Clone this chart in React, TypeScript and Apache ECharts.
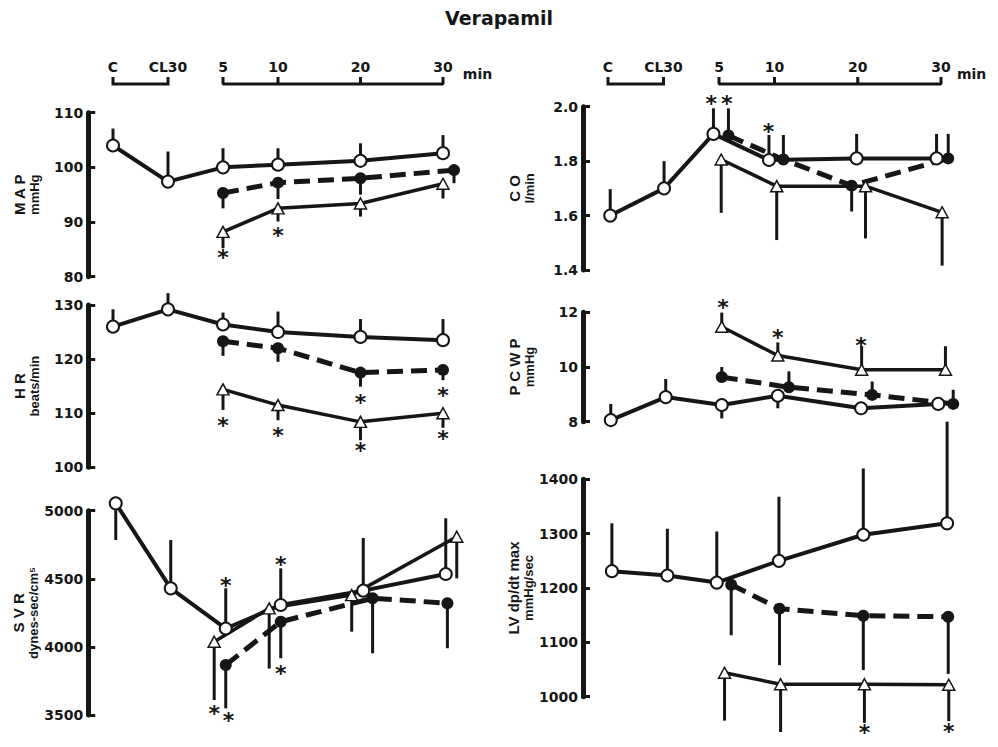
import React, { useEffect, useRef } from 'react';
import * as echarts from 'echarts';

// ---------- shared time axis ----------
const TIME_POS = [0, 1, 2, 3, 4.5, 6];
const TIME_LABELS = ['C', 'CL30', '5', '10', '20', '30'];

// ---------- MAP (mmHg) ----------
const MAP_OPEN_X = [0, 1, 2, 3, 4.5, 6];
const MAP_OPEN_Y = [104, 97.4, 100, 100.5, 101.2, 102.6];
const MAP_OPEN_ERR = [107.1, 102.9, 103.5, 103.5, 104.4, 105.9];
const MAP_FILL_X = [2, 3, 4.5, 6.2];
const MAP_FILL_Y = [95.3, 97.2, 98.0, 99.5];
const MAP_FILL_ERR = [92.5, 94.2, 95.0, 97.1];
const MAP_TRI_X = [2, 3, 4.5, 6];
const MAP_TRI_Y = [88.2, 92.5, 93.4, 97.0];
const MAP_TRI_ERR = [85.2, 90.1, 91.0, 94.3];
const MAP_STARS = [[2, 84.3], [3, 88.2]];

// ---------- HR (beats/min) ----------
const HR_OPEN_X = [0, 1, 2, 3, 4.5, 6];
const HR_OPEN_Y = [126.0, 129.2, 126.4, 125.0, 124.1, 123.5];
const HR_OPEN_ERR = [129.2, 132.2, 128.6, 128.8, 127.4, 127.4];
const HR_FILL_X = [2, 3, 4.5, 6];
const HR_FILL_Y = [123.3, 122.0, 117.5, 118.0];
const HR_FILL_ERR = [120.6, 119.5, 114.9, 116.1];
const HR_TRI_X = [2, 3, 4.5, 6];
const HR_TRI_Y = [114.4, 111.5, 108.4, 110.0];
const HR_TRI_ERR = [110.6, 108.7, 105.0, 107.3];
const HR_STARS = [[4.5, 112.8], [6, 114.0], [2, 108.4], [3, 106.6], [4.5, 103.9], [6, 106.0]];

// ---------- SVR (dynes-sec/cm5) ----------
const SVR_OPEN_X = [0.05, 1.05, 2.05, 3.05, 4.55, 6.05];
const SVR_OPEN_Y = [5054, 4430, 4135, 4308, 4413, 4535];
const SVR_OPEN_ERR = [4785, 4785, 4430, 4577, 4800, 4944];
const SVR_FILL_X = [2.05, 3.05, 4.72, 6.08];
const SVR_FILL_Y = [3867, 4185, 4357, 4321];
const SVR_FILL_ERR = [3549, 3917, 3953, 3990];
const SVR_TRI_X = [1.84, 2.84, 4.34, 6.25];
const SVR_TRI_Y = [4038, 4283, 4380, 4809];
const SVR_TRI_ERR = [3610, 3841, 4112, 4503];
const SVR_STARS = [[2.05, 4479], [3.05, 4638], [2.1, 3488], [1.84, 3537], [3.05, 3836]];

// ---------- CO (l/min) ----------
const CO_OPEN_X = [0.04, 1.01, 1.9, 2.9, 4.48, 5.92];
const CO_OPEN_Y = [1.6, 1.7, 1.9, 1.804, 1.81, 1.81];
const CO_OPEN_ERR = [1.697, 1.8, 1.994, 1.896, 1.9, 1.9];
const CO_FILL_X = [2.17, 3.16, 4.39, 6.13];
const CO_FILL_Y = [1.894, 1.806, 1.71, 1.81];
const CO_FILL_ERR = [1.994, 1.896, 1.615, 1.9];
const CO_TRI_X = [2.04, 3.04, 4.64, 6.02];
const CO_TRI_Y = [1.806, 1.708, 1.708, 1.612];
const CO_TRI_ERR = [1.61, 1.51, 1.516, 1.416];
const CO_STARS = [[1.86, 2.025], [2.14, 2.025], [2.89, 1.924]];

// ---------- PCWP (mmHg) ----------
const PCWP_OPEN_X = [0.05, 1.04, 2.05, 3.06, 4.56, 5.95];
const PCWP_OPEN_Y = [8.06, 8.9, 8.61, 8.95, 8.49, 8.65];
const PCWP_OPEN_ERR = [8.65, 9.56, 8.12, 8.49, null, null];
const PCWP_FILL_X = [2.05, 3.26, 4.76, 6.22];
const PCWP_FILL_Y = [9.63, 9.26, 8.98, 8.65];
const PCWP_FILL_ERR = [10.0, 9.84, 9.47, 9.17];
const PCWP_TRI_X = [2.05, 3.06, 4.57, 6.08];
const PCWP_TRI_Y = [11.47, 10.42, 9.9, 9.9];
const PCWP_TRI_ERR = [11.99, 10.9, 10.76, 10.76];
const PCWP_STARS = [[2.07, 12.33], [3.06, 11.23], [4.56, 10.92]];

// ---------- LV dp/dt max (mmHg/sec) ----------
const LV_OPEN_X = [0.07, 1.07, 1.96, 3.08, 4.6, 6.11];
const LV_OPEN_Y = [1231, 1223, 1210, 1250, 1298, 1319];
const LV_OPEN_ERR = [1319, 1309, 1304, 1368, 1420, 1506];
const LV_FILL_X = [2.22, 3.09, 4.6, 6.13];
const LV_FILL_Y = [1206, 1162, 1149, 1147];
const LV_FILL_ERR = [1113, 1058, 1049, 1042];
const LV_TRI_X = [2.1, 3.11, 4.62, 6.14];
const LV_TRI_Y = [1044, 1023, 1023, 1022];
const LV_TRI_ERR = [956, 935, 952, 955];
const LV_STARS = [[4.62, 941], [6.14, 943]];

const INK = '#161616';
const X_MIN = -0.45;
const X_MAX = 6.36;
const SIDES = [
  { left: 113 + X_MIN * 55, width: (X_MAX - X_MIN) * 55 },
  { left: 608 + X_MIN * 55.5, width: (X_MAX - X_MIN) * 55.5 },
];

type Panel = {
  side: number; top: number; height: number; min: number; max: number; interval: number;
  name: string; fmt?: (v: number) => string;
  open: [number[], number[], (number | null)[]];
  fill: [number[], number[], (number | null)[]];
  tri: [number[], number[], (number | null)[]];
  stars: number[][];
};

const PANELS: Panel[] = [
  { side: 0, top: 112.7, height: 164, min: 80, max: 110, interval: 10,
    name: '{a|M A P}\n{b|mmHg}',
    open: [MAP_OPEN_X, MAP_OPEN_Y, MAP_OPEN_ERR], fill: [MAP_FILL_X, MAP_FILL_Y, MAP_FILL_ERR],
    tri: [MAP_TRI_X, MAP_TRI_Y, MAP_TRI_ERR], stars: MAP_STARS },
  { side: 0, top: 305, height: 162.3, min: 100, max: 130, interval: 10,
    name: '{a|H R}\n{b|beats/min}',
    open: [HR_OPEN_X, HR_OPEN_Y, HR_OPEN_ERR], fill: [HR_FILL_X, HR_FILL_Y, HR_FILL_ERR],
    tri: [HR_TRI_X, HR_TRI_Y, HR_TRI_ERR], stars: HR_STARS },
  { side: 0, top: 510.7, height: 204.3, min: 3500, max: 5000, interval: 500,
    name: '{a|S V R}\n{b|dynes-sec/cm⁵}',
    open: [SVR_OPEN_X, SVR_OPEN_Y, SVR_OPEN_ERR], fill: [SVR_FILL_X, SVR_FILL_Y, SVR_FILL_ERR],
    tri: [SVR_TRI_X, SVR_TRI_Y, SVR_TRI_ERR], stars: SVR_STARS },
  { side: 1, top: 106.7, height: 163.3, min: 1.4, max: 2.0, interval: 0.2,
    name: '{a|C O}\n{b|l/min}', fmt: (v) => v.toFixed(1),
    open: [CO_OPEN_X, CO_OPEN_Y, CO_OPEN_ERR], fill: [CO_FILL_X, CO_FILL_Y, CO_FILL_ERR],
    tri: [CO_TRI_X, CO_TRI_Y, CO_TRI_ERR], stars: CO_STARS },
  { side: 1, top: 312.3, height: 109.4, min: 8, max: 12, interval: 2,
    name: '{a|P C W P}\n{b|mmHg}',
    open: [PCWP_OPEN_X, PCWP_OPEN_Y, PCWP_OPEN_ERR], fill: [PCWP_FILL_X, PCWP_FILL_Y, PCWP_FILL_ERR],
    tri: [PCWP_TRI_X, PCWP_TRI_Y, PCWP_TRI_ERR], stars: PCWP_STARS },
  { side: 1, top: 479.3, height: 217.4, min: 1000, max: 1400, interval: 100,
    name: '{a|LV dp/dt max}\n{b|mmHg/sec}',
    open: [LV_OPEN_X, LV_OPEN_Y, LV_OPEN_ERR], fill: [LV_FILL_X, LV_FILL_Y, LV_FILL_ERR],
    tri: [LV_TRI_X, LV_TRI_Y, LV_TRI_ERR], stars: LV_STARS },
];

const zip = (xs: number[], ys: number[]) => xs.map((x, i) => [x, ys[i]]);
const bars = (s: [number[], number[], (number | null)[]]) =>
  s[0].map((x, i) => (s[2][i] == null ? null : [x, s[1][i], s[2][i] as number])).filter(Boolean) as number[][];

function buildOption() {
  const grid: any[] = [];
  const xAxis: any[] = [];
  const yAxis: any[] = [];
  const series: any[] = [];

  PANELS.forEach((p, i) => {
    const s = SIDES[p.side];
    grid.push({ left: s.left, width: s.width, top: p.top, height: p.height });
    xAxis.push({ gridIndex: i, type: 'value', min: X_MIN, max: X_MAX, show: false });
    yAxis.push({
      gridIndex: i, type: 'value', min: p.min, max: p.max, interval: p.interval,
      axisLine: { show: true, onZero: false, lineStyle: { color: INK, width: 5 } },
      axisTick: { show: true, inside: true, length: 7, lineStyle: { color: INK, width: 3 } },
      splitLine: { show: false },
      axisLabel: {
        color: INK, fontFamily: 'DejaVu Sans', fontWeight: 'bold', fontSize: 14, margin: 5,
        formatter: (v: number) => (p.fmt ? p.fmt(v) : String(v)),
      },
      name: p.name, nameLocation: 'middle', nameGap: 47, nameRotate: 90,
      nameTextStyle: {
        color: INK,
        rich: {
          a: { fontFamily: 'Liberation Sans', fontWeight: 'bold', fontSize: 15, lineHeight: 16, color: INK },
          b: { fontFamily: 'Liberation Sans', fontWeight: 'bold', fontSize: 13, lineHeight: 14, color: INK },
        },
      },
    });
    const common = { xAxisIndex: i, yAxisIndex: i, clip: false, silent: true, z: 2 };
    series.push({
      type: 'custom', xAxisIndex: i, yAxisIndex: i, clip: false, silent: true, z: 1,
      data: [...bars(p.open), ...bars(p.fill), ...bars(p.tri)],
      encode: { x: 0, y: [1, 2] },
      renderItem: (_: any, api: any) => {
        const a = api.coord([api.value(0), api.value(1)]);
        const b = api.coord([api.value(0), api.value(2)]);
        return { type: 'line', shape: { x1: a[0], y1: a[1], x2: b[0], y2: b[1] }, style: { stroke: INK, lineWidth: 3 } };
      },
    });
    series.push({
      ...common, type: 'line', data: zip(p.open[0], p.open[1]), symbol: 'circle', symbolSize: 12,
      lineStyle: { color: INK, width: 4 }, itemStyle: { color: '#fff', borderColor: INK, borderWidth: 2 },
    });
    series.push({
      ...common, type: 'line', data: zip(p.fill[0], p.fill[1]), symbol: 'circle', symbolSize: 12,
      lineStyle: { color: INK, width: 5, type: [16, 8] }, itemStyle: { color: INK, borderWidth: 0 },
    });
    series.push({
      ...common, type: 'line', data: zip(p.tri[0], p.tri[1]), symbol: 'triangle', symbolSize: [12, 11],
      lineStyle: { color: INK, width: 3.5 }, itemStyle: { color: '#fff', borderColor: INK, borderWidth: 1.5 },
    });
    series.push({
      type: 'custom', xAxisIndex: i, yAxisIndex: i, clip: false, silent: true, z: 3,
      data: p.stars, encode: { x: 0, y: 1 },
      renderItem: (_: any, api: any) => {
        const c = api.coord([api.value(0), api.value(1)]);
        return {
          type: 'text', x: c[0], y: c[1] + 4,
          style: { text: '*', fontFamily: 'DejaVu Sans', fontWeight: 'bold', fontSize: 22, lineHeight: 12, fill: INK, align: 'center', verticalAlign: 'middle' },
        };
      },
    });
  });

  // top time brackets (one per side)
  SIDES.forEach((s, k) => {
    const gi = PANELS.length + k;
    grid.push({ left: s.left, width: s.width, top: 77, height: 7 });
    xAxis.push({
      gridIndex: gi, type: 'value', min: X_MIN, max: X_MAX, position: 'top',
      axisLine: { show: false }, axisTick: { show: false }, splitLine: { show: false },
      axisLabel: {
        customValues: TIME_POS, margin: 3, color: INK, fontFamily: 'DejaVu Sans', fontWeight: 'bold', fontSize: 14,
        formatter: (v: number) => TIME_LABELS[TIME_POS.indexOf(v)] ?? '',
      },
      name: 'min', nameLocation: 'end', nameGap: k === 0 ? 0 : -4,
      nameTextStyle: { color: INK, fontFamily: 'DejaVu Sans', fontWeight: 'bold', fontSize: 14, verticalAlign: 'bottom', align: 'left', padding: [0, 0, 3, 0] },
    });
    yAxis.push({ gridIndex: gi, type: 'value', min: 0, max: 1, show: false });
    const P = TIME_POS;
    series.push({
      type: 'line', xAxisIndex: gi, yAxisIndex: gi, symbol: 'none', silent: true, clip: false,
      lineStyle: { color: INK, width: 3, join: 'miter' },
      data: [[P[0], 1], [P[0], 0], [P[1], 0], [P[1], 1]],
    });
    series.push({
      type: 'line', xAxisIndex: gi, yAxisIndex: gi, symbol: 'none', silent: true, clip: false,
      lineStyle: { color: INK, width: 3 },
      data: [[P[2], 1], [P[2], 0], [P[3], 0], [P[3], 1], [P[3], 0], [P[4], 0], [P[4], 1], [P[4], 0], [P[5], 0], [P[5], 1]],
    });
  });

  return {
    animation: false,
    backgroundColor: '#ffffff',
    title: {
      text: 'Verapamil', left: 'center', top: 3,
      textStyle: { fontFamily: 'DejaVu Sans', fontWeight: 'bold', fontSize: 19, color: INK },
    },
    grid, xAxis, yAxis, series,
  };
}

export default function App() {
  const ref = useRef<HTMLDivElement>(null);
  useEffect(() => {
    if (!ref.current) return;
    const chart = echarts.init(ref.current, undefined, { renderer: 'svg' });
    chart.setOption(buildOption() as any);
    return () => chart.dispose();
  }, []);
  return <div ref={ref} style={{ position: 'absolute', left: 0, top: 0, width: 998, height: 747, background: '#fff' }} />;
}
